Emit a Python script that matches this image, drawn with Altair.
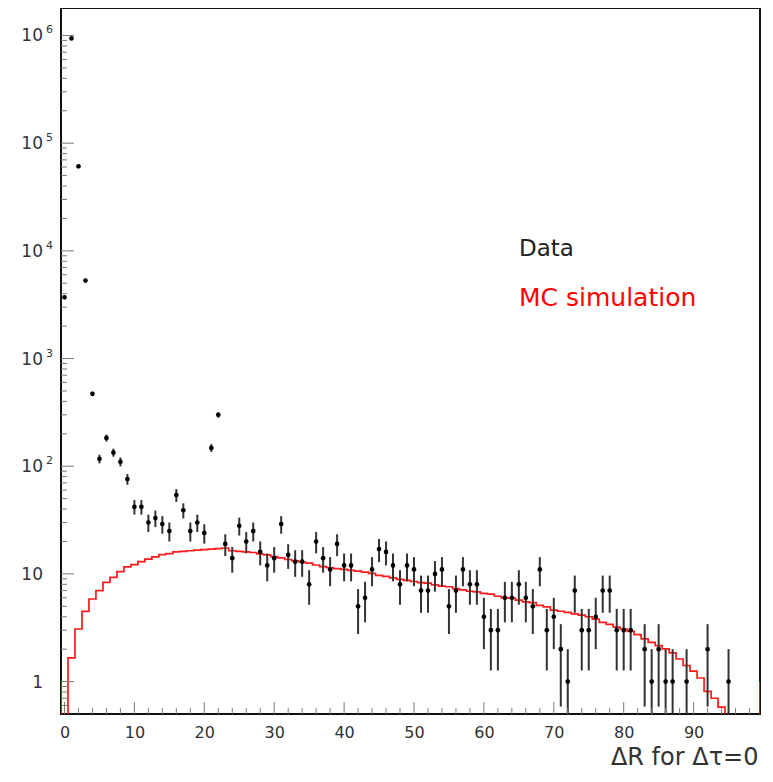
import altair as alt
import pandas as pd

# ---------------- data ----------------
bins = list(range(100))  # bin centres, bin width 1

data_counts = [3700, 940000, 61000, 5300, 470, 117, 183, 134, 110, 76,
               42, 42, 30, 33, 29, 25, 54, 39, 25, 30,
               24, 148, 300, 19, 14, 28, 20, 25, 16, 12,
               14, 29, 15, 13, 13, 8, 20, 14, 11, 19,
               12, 12, 5, 6, 11, 17, 16, 12, 8, 12,
               11, 7, 7, 10, 11, 5, 7, 11, 8, 8,
               4, 3, 3, 6, 6, 8, 6, 5, 11, 3,
               4, 2, 1, 7, 3, 3, 4, 7, 7, 3,
               3, 3, 0, 2, 1, 2, 1, 1, 0, 1,
               0, 0, 2, 0, 0, 1, 0, 0, 0, 0]

mc_values = [0, 1.66, 3.08, 4.49, 5.85, 6.98, 8.34, 9.29, 10.5, 11.6,
             12.2, 13.0, 13.7, 14.4, 15.1, 15.4, 16.0, 16.2, 16.4, 16.6,
             16.8, 17.0, 17.2, 17.4, 16.4, 16.2, 16.0, 15.8, 15.3, 15.0,
             14.5, 14.1, 13.6, 13.2, 12.9, 12.6, 12.1, 11.7, 11.4, 11.2,
             11.0, 10.8, 10.6, 10.4, 10.1, 9.7, 9.5, 9.2, 8.9, 8.7,
             8.5, 8.3, 8.2, 7.9, 7.7, 7.6, 7.3, 7.1, 6.9, 6.8,
             6.6, 6.5, 6.2, 6.0, 5.95, 5.7, 5.5, 5.4, 5.1, 4.95,
             4.6, 4.5, 4.4, 4.25, 4.15, 4.0, 3.8, 3.55, 3.4, 3.2,
             3.08, 2.93, 2.73, 2.49, 2.31, 2.16, 2.01, 1.85, 1.62, 1.41,
             1.25, 1.08, 0.81, 0.70, 0.58, 0, 0, 0, 0, 0]
mc_edge_level = 1.0  # level of the red edge segments at both frame sides

x_tick_labels = [0, 10, 20, 30, 40, 50, 60, 70, 80, 90]
x_minor_ticks = [v for v in range(2, 100, 2) if v % 10 != 0]
y_major_ticks = [1, 10, 100, 1000, 10000, 100000, 1000000]
y_label_base = ["1", "10", "10", "10", "10", "10", "10"]
y_label_exp = ["", "", "2", "3", "4", "5", "6"]
y_minor_ticks = [0.6, 0.7, 0.8, 0.9] + [m * 10 ** k for k in range(6) for m in range(2, 10)]

legend_labels = ["Data", "MC simulation"]
legend_colors = ["#222222", "#ff0000"]
x_title = "ΔR for Δτ=0"

# ---------------- chart ----------------
W, H = 699, 706
FONT = "DejaVu Sans"

xs = alt.Scale(domain=[-0.5, 99.5], nice=False, zero=False)
ys = alt.Scale(type="log", domain=[0.5, 1.8e6], nice=False)

x_axis = alt.Axis(values=x_tick_labels, ticks=False, domain=False, grid=False,
                  labelFont=FONT, labelFontSize=16, labelColor="#333333",
                  labelPadding=10, labelFlush=False,
                  title=x_title, titleFont=FONT, titleFontSize=24,
                  titleFontWeight="normal", titleColor="#333333",
                  titleAnchor="end", titleAlign="right", titleBaseline="alphabetic",
                  titleX=W - 2, titleY=50)
X = alt.X("x:Q", scale=xs, axis=x_axis)

# MC step histogram (edges)
edges_x = [-0.5] + [b - 0.5 for b in bins] + [99.5]
edges_y = [mc_edge_level] + mc_values + [mc_edge_level]
df_mc = pd.DataFrame({"x": edges_x, "y": edges_y, "i": list(range(len(edges_x)))})

mc = alt.Chart(df_mc).transform_calculate(
    yp="max(datum.y, 0.05)"
).mark_line(interpolate="step-after", color="#ff1a1a", strokeWidth=1.7, clip=True).encode(
    x=X, y=alt.Y("yp:Q", scale=ys, axis=None), order="i:Q"
)

df_data = pd.DataFrame({"x": bins, "n": data_counts})

err = alt.Chart(df_data).transform_filter("datum.n > 0").transform_calculate(
    lo="max(datum.n - sqrt(datum.n), 0.05)", hi="datum.n + sqrt(datum.n)"
).mark_rule(color="#333333", strokeWidth=2, clip=True).encode(
    x=X, y=alt.Y("lo:Q", scale=ys, axis=None), y2="hi:Q"
)

pts = alt.Chart(df_data).transform_filter("datum.n > 0").mark_circle(
    color="#000000", size=22, opacity=1, clip=True
).encode(x=X, y=alt.Y("n:Q", scale=ys, axis=None))

# ticks (inside the frame, ROOT style)
tick_col = "#7a7a7a"
ymaj = alt.Chart(pd.DataFrame({"y": y_major_ticks})).mark_rule(color=tick_col, strokeWidth=1).encode(
    y=alt.Y("y:Q", scale=ys, axis=None), x=alt.value(0), x2=alt.value(13))
ymin = alt.Chart(pd.DataFrame({"y": y_minor_ticks})).transform_filter("datum.y >= 0.5").mark_rule(
    color=tick_col, strokeWidth=1).encode(
    y=alt.Y("y:Q", scale=ys, axis=None), x=alt.value(0), x2=alt.value(6))
xmaj = alt.Chart(pd.DataFrame({"x": x_tick_labels})).mark_rule(color=tick_col, strokeWidth=1).encode(
    x=X, y=alt.value(H), y2=alt.value(H - 12))
xmin = alt.Chart(pd.DataFrame({"x": x_minor_ticks})).mark_rule(color=tick_col, strokeWidth=1).encode(
    x=X, y=alt.value(H), y2=alt.value(H - 6))

# y labels: "10" with raised exponent
df_yl = pd.DataFrame({"y": y_major_ticks, "base": y_label_base, "exp": y_label_exp})
ylab = alt.Chart(df_yl).mark_text(align="right", baseline="alphabetic", dy=6, fontSize=17,
                                  font=FONT, color="#333333", clip=False).encode(
    y=alt.Y("y:Q", scale=ys, axis=None), x=alt.value(-18), text="base:N")
yexp = alt.Chart(df_yl).mark_text(align="left", baseline="alphabetic", dy=-2, fontSize=11,
                                  font=FONT, color="#333333", clip=False).encode(
    y=alt.Y("y:Q", scale=ys, axis=None), x=alt.value(-15), text="exp:N")

# legend texts
leg1 = alt.Chart(pd.DataFrame({"t": [legend_labels[0]]})).mark_text(
    align="left", baseline="alphabetic", fontSize=23, font=FONT, color=legend_colors[0]).encode(
    x=alt.value(458), y=alt.value(248), text="t:N")
leg2 = alt.Chart(pd.DataFrame({"t": [legend_labels[1]]})).mark_text(
    align="left", baseline="alphabetic", fontSize=25, font=FONT, color=legend_colors[1]).encode(
    x=alt.value(458), y=alt.value(298), text="t:N")

chart = alt.layer(mc, err, pts, ymaj, ymin, xmaj, xmin, ylab, yexp, leg1, leg2).properties(
    width=W, height=H,
    autosize=alt.AutoSizeParams(type="none"),
    padding={"left": 53, "top": 0, "right": 4, "bottom": 60},
    background="white",
).configure_view(stroke="#111111", strokeWidth=2)

chart.save("out.html", embed_options={"renderer": "svg", "actions": False})
